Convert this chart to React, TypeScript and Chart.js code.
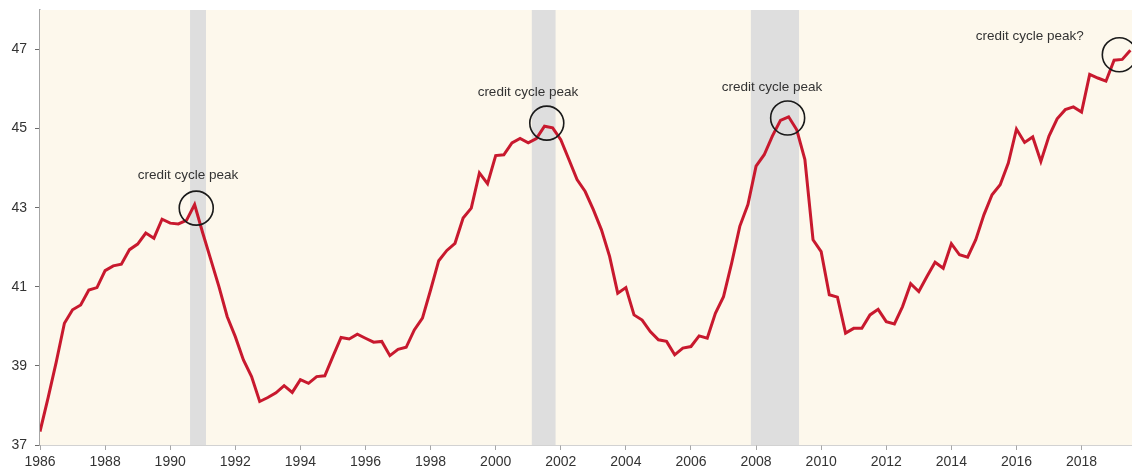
import React, { useEffect, useRef } from "react";
import { Chart, registerables } from "chart.js";

Chart.register(...registerables);

// Quarterly series starting 1986 Q1
const START_YEAR = 1986;
const values: number[] = [
  37.34, 38.2, 39.1, 40.08, 40.42, 40.54, 40.92, 40.98, 41.41, 41.53,
  41.57, 41.94, 42.08, 42.36, 42.23, 42.71, 42.61, 42.59, 42.68, 43.08,
  42.36, 41.68, 41.0, 40.25, 39.74, 39.15, 38.73, 38.1, 38.2, 38.32,
  38.5, 38.33, 38.65, 38.56, 38.73, 38.75, 39.24, 39.72, 39.68, 39.8,
  39.7, 39.6, 39.62, 39.26, 39.42, 39.47, 39.91, 40.21, 40.92, 41.66,
  41.92, 42.1, 42.74, 42.99, 43.88, 43.61, 44.32, 44.34, 44.64, 44.75,
  44.64, 44.75, 45.06, 45.02, 44.72, 44.22, 43.71, 43.41, 42.95, 42.44,
  41.77, 40.84, 40.98, 40.29, 40.16, 39.87, 39.66, 39.62, 39.28, 39.45,
  39.49, 39.76, 39.7, 40.33, 40.75, 41.6, 42.53, 43.08, 44.05, 44.34,
  44.81, 45.21, 45.3, 44.97, 44.22, 42.19, 41.89, 40.8, 40.74, 39.83,
  39.95, 39.95, 40.29, 40.43, 40.12, 40.06, 40.5, 41.08, 40.88, 41.26,
  41.62, 41.47, 42.09, 41.81, 41.75, 42.19, 42.82, 43.33, 43.58, 44.13,
  44.99, 44.65, 44.79, 44.17, 44.81, 45.25, 45.48, 45.55, 45.42, 46.37,
  46.28, 46.2, 46.73, 46.75, 46.98,
];

const xTickYears: number[] = [1986, 1988, 1990, 1992, 1994, 1996, 1998, 2000, 2002, 2004, 2006, 2008, 2010, 2012, 2014, 2016, 2018];
const yTickValues: number[] = [37, 39, 41, 43, 45, 47];

// Recession bands [start, end] in years
const bandStarts: number[] = [1990.61, 2001.11, 2007.84];
const bandEnds: number[] = [1991.1, 2001.84, 2009.32];

// Annotations
const circleX: number[] = [1990.8, 2001.57, 2008.97, 2019.16];
const circleY: number[] = [42.99, 45.14, 45.27, 46.87];
const labelTexts: string[] = ["credit cycle peak", "credit cycle peak", "credit cycle peak", "credit cycle peak?"];
const labelX: number[] = [1990.55, 2000.99, 2008.49, 2016.41];
const labelY: number[] = [43.81, 45.91, 46.04, 47.33];

const FONT = "'Liberation Sans', Arial, sans-serif";

const decorPlugin = {
  id: "decor",
  beforeDatasetsDraw(chart: any) {
    const { ctx, chartArea, scales } = chart;
    const xs = scales.x;
    ctx.save();
    ctx.fillStyle = "#fdf8ec";
    ctx.fillRect(chartArea.left, chartArea.top, chartArea.right - chartArea.left, chartArea.bottom - chartArea.top);
    ctx.fillStyle = "#dedede";
    for (let i = 0; i < bandStarts.length; i++) {
      const a = xs.getPixelForValue(bandStarts[i]);
      const b = xs.getPixelForValue(bandEnds[i]);
      ctx.fillRect(a, chartArea.top, b - a, chartArea.bottom - chartArea.top);
    }
    ctx.restore();
  },
  afterDatasetsDraw(chart: any) {
    const { ctx, scales } = chart;
    const xs = scales.x;
    const ys = scales.y;
    ctx.save();
    ctx.strokeStyle = "#1a1a1a";
    ctx.lineWidth = 1.6;
    for (let i = 0; i < circleX.length; i++) {
      ctx.beginPath();
      ctx.arc(xs.getPixelForValue(circleX[i]), ys.getPixelForValue(circleY[i]), 17, 0, Math.PI * 2);
      ctx.stroke();
    }
    ctx.fillStyle = "#333333";
    ctx.font = `13.5px ${FONT}`;
    ctx.textAlign = "center";
    ctx.textBaseline = "middle";
    for (let i = 0; i < labelTexts.length; i++) {
      ctx.fillText(labelTexts[i], xs.getPixelForValue(labelX[i]), ys.getPixelForValue(labelY[i]));
    }
    ctx.restore();
  },
};

export default function App() {
  const ref = useRef<HTMLCanvasElement>(null);
  useEffect(() => {
    if (!ref.current) return;
    const points = values.map((v, i) => ({ x: START_YEAR + i * 0.25, y: v }));
    const chart = new Chart(ref.current, {
      type: "line",
      data: {
        datasets: [
          {
            data: points,
            borderColor: "#c8192e",
            borderWidth: 3,
            pointRadius: 0,
            tension: 0,
            fill: false,
          },
        ],
      },
      options: {
        animation: false,
        responsive: false,
        maintainAspectRatio: false,
        layout: { padding: { top: 10, right: 0, left: 0, bottom: 0 } },
        plugins: { legend: { display: false }, tooltip: { enabled: false } },
        scales: {
          x: {
            type: "linear",
            min: 1986,
            max: 2019.55,
            afterBuildTicks: (s: any) => {
              s.ticks = xTickYears.map((v) => ({ value: v }));
            },
            afterFit: (s: any) => {
              s.height = 24;
              s.paddingLeft = 0;
              s.paddingRight = 0;
            },
            grid: { drawOnChartArea: false, drawTicks: true, tickLength: 5, color: "#a6a6a6" },
            border: { display: true, color: "#a6a6a6", width: 1.5 },
            ticks: {
              autoSkip: false,
              maxRotation: 0,
              padding: 4,
              color: "#333333",
              font: { family: FONT, size: 14 },
              callback: (v: any) => String(v),
            },
          },
          y: {
            type: "linear",
            min: 37,
            max: 48,
            afterBuildTicks: (s: any) => {
              s.ticks = yTickValues.map((v) => ({ value: v }));
            },
            afterFit: (s: any) => {
              s.width = 40;
              s.paddingTop = 0;
              s.paddingBottom = 0;
            },
            grid: { drawOnChartArea: false, drawTicks: true, tickLength: 5, color: "#6b6b6b" },
            border: { display: true, color: "#a6a6a6", width: 1.5 },
            ticks: {
              padding: 8,
              color: "#333333",
              font: { family: FONT, size: 14 },
              callback: (v: any) => String(v),
            },
          },
        },
      },
      plugins: [decorPlugin],
    });
    return () => chart.destroy();
  }, []);
  return (
    <div style={{ position: "fixed", left: 0, top: 0, width: 1132, height: 469, background: "#ffffff" }}>
      <canvas ref={ref} width={1132} height={469} style={{ display: "block", width: 1132, height: 469 }} />
    </div>
  );
}
